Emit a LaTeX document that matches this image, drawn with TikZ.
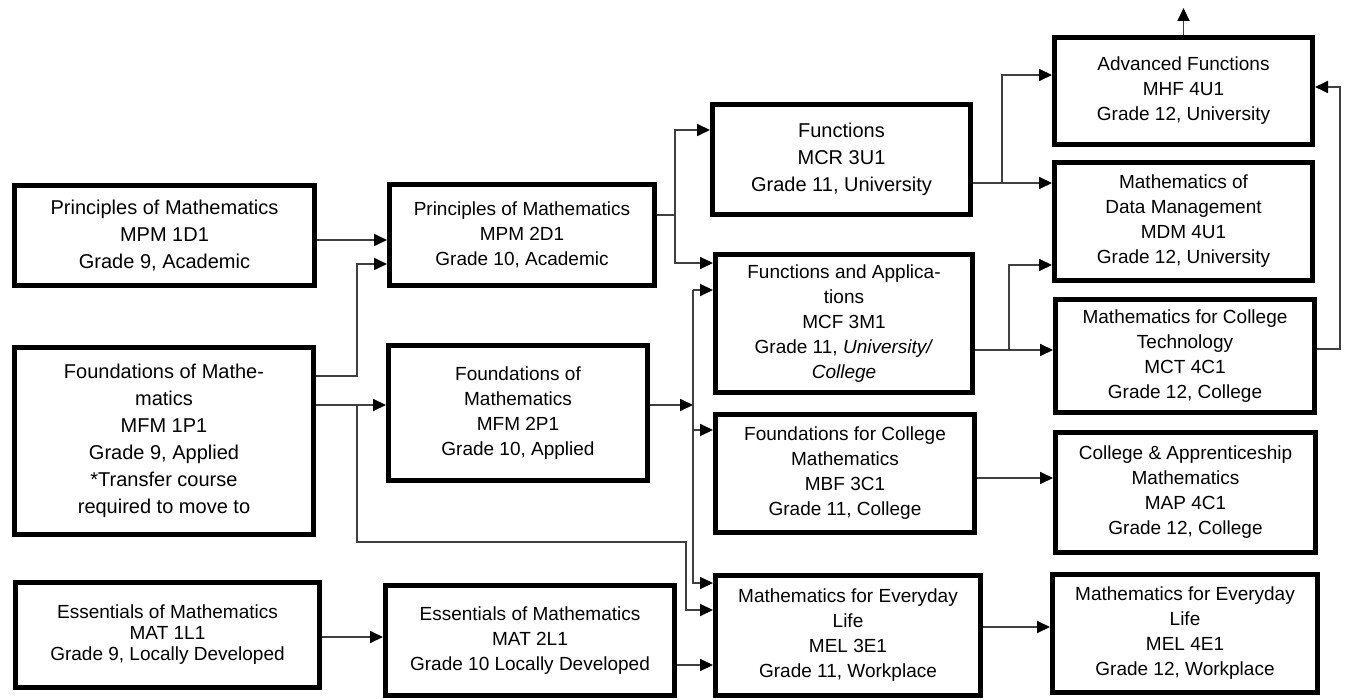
\documentclass[tikz,border=0pt]{standalone}
\usepackage{fontspec}
\setmainfont{Liberation Sans}
\usetikzlibrary{arrows.meta}

\begin{document}
\begin{tikzpicture}[x=1pt, y=-1pt,
        course/.style={draw, line width=5pt, align=center, inner sep=0pt, font=\fontsize{19}{25}\selectfont},
        link/.style={draw=black!75, line width=1.8pt, -{Triangle[length=13pt, width=12pt, color=black]}}]
        \useasboundingbox (0,0) rectangle (1348,700);

        \node[course, minimum width=300, minimum height=100, font=\fontsize{20}{27}\selectfont] (p9) at (164.5,235.5) {Principles of Mathematics\\MPM 1D1\\Grade 9, Academic};
        \node[course, minimum width=299, minimum height=187, font=\fontsize{20}{27}\selectfont] (f9) at (164,441) {Foundations of Mathe-\\matics\\MFM 1P1\\Grade 9, Applied\\*Transfer course\\required to move to};
        \node[course, minimum width=304, minimum height=105, font=\fontsize{19}{21}\selectfont] (e9) at (167.5,635) {Essentials of Mathematics\\MAT 1L1\\Grade 9, Locally Developed};

        \node[course, minimum width=265, minimum height=101] (p10) at (522,235) {Principles of Mathematics\\MPM 2D1\\Grade 10, Academic};
        \node[course, minimum width=259, minimum height=135] (f10) at (518,413) {Foundations of\\Mathematics\\MFM 2P1\\Grade 10, Applied};
        \node[course, minimum width=289, minimum height=110] (e10) at (530,640.5) {Essentials of Mathematics\\MAT 2L1\\Grade 10 Locally Developed};

        \node[course, minimum width=258, minimum height=110, font=\fontsize{20}{27}\selectfont] (mcr) at (841.5,159.5) {Functions\\MCR 3U1\\Grade 11, University};
        \node[course, minimum width=257, minimum height=138] (mcf) at (844,323.5) {Functions and Applica-\\tions\\MCF 3M1\\Grade 11, \textit{University/}\\\textit{College}};
        \node[course, minimum width=259, minimum height=118] (mbf) at (845,473.5) {Foundations for College\\Mathematics\\MBF 3C1\\Grade 11, College};
        \node[course, minimum width=265, minimum height=120] (mel3) at (848,635.5) {Mathematics for Everyday\\Life\\MEL 3E1\\Grade 11, Workplace};

        \node[course, minimum width=258, minimum height=107] (mhf) at (1183.5,91) {Advanced Functions\\MHF 4U1\\Grade 12, University};
        \node[course, minimum width=258, minimum height=118] (mdm) at (1183.5,221.5) {Mathematics of\\Data Management\\MDM 4U1\\Grade 12, University};
        \node[course, minimum width=259, minimum height=113] (mct) at (1185,356) {Mathematics for College\\Technology\\MCT 4C1\\Grade 12, College};
        \node[course, minimum width=260, minimum height=120] (map) at (1185.5,492.5) {College \& Apprenticeship\\Mathematics\\MAP 4C1\\Grade 12, College};
        \node[course, minimum width=265, minimum height=118] (mel4) at (1185,633.5) {Mathematics for Everyday\\Life\\MEL 4E1\\Grade 12, Workplace};

        \coordinate (up) at (1183.5,8);

        \draw[link] (p9.east |- 0,240) -- (p10.west |- 0,240);
        \draw[link] (f9.east |- 0,376) -| (357,264) -- (p10.west |- 0,264);
        \draw[link] (f9.east |- 0,405) -- (f10.west |- 0,405);
        \draw[link] (357,405) |- (686,542) |- (mel3.west |- 0,610);
        \draw[link] (e9.east |- 0,637) -- (e10.west |- 0,637);

        \draw[link] (p10.east |- 0,215) -| (675,130) -- (mcr.west |- 0,130);
        \draw[link] (675,215) |- (mcf.west |- 0,263);
        \draw[link] (f10.east |- 0,405) -- (693,405);
        \draw[link] (693,290) |- (mel3.west |- 0,583);
        \draw[link] (693,290) -- (mcf.west |- 0,290);
        \draw[link] (693,430) -- (mbf.west |- 0,430);
        \draw[link] (e10.east |- 0,665) -- (mel3.west |- 0,665);

        \draw[link] (mcr.east |- 0,183) -- (mdm.west |- 0,183);
        \draw[link] (1002,183) |- (mhf.west |- 0,75);
        \draw[link] (mcf.east |- 0,350) -- (mct.west |- 0,350);
        \draw[link] (1009,350) |- (mdm.west |- 0,265);
        \draw[link] (mbf.east |- 0,478) -- (map.west |- 0,478);
        \draw[link] (mel3.east |- 0,627) -- (mel4.west |- 0,627);
        \draw[link] (mct.east |- 0,349) -| (1340,87) -- (mhf.east |- 0,87);
        \draw[link] (mhf.north) -- (up);
    \end{tikzpicture}
\end{document}
